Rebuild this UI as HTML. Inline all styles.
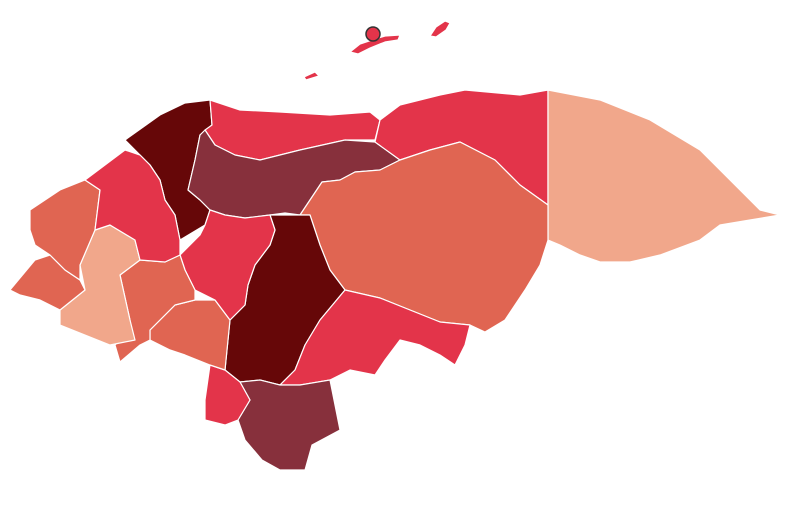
<!DOCTYPE html>
<html><head><meta charset="utf-8"><style>
html,body{margin:0;padding:0;background:#fff;width:800px;height:505px;overflow:hidden;font-family:"Liberation Sans",sans-serif}
svg path{stroke:#fff;stroke-width:1.2;stroke-linejoin:round}
</style></head><body>
<svg id="map" width="800" height="505" viewBox="0 0 800 505"></svg>
<script>
const departments=["Islas de la Bahia","Cortes","Atlantida","Yoro","Colon","Gracias a Dios","Olancho","Francisco Morazan","El Paraiso","Choluteca","Valle","La Paz","Comayagua","Intibuca","Lempira","Ocotepeque","Copan","Santa Barbara"];
const classes=[2,4,2,3,2,0,1,4,2,3,2,1,2,1,0,1,1,2];
const palette=["#f1a78b","#e06552","#e3344a","#87303c","#660708"];
const shapes=[
"M350,52 L360,44 L372,40 L385,36 L400,35 L398,40 L385,42 L370,48 L358,54 Z M430,36 L436,27 L445,21 L450,23 L446,30 L436,37 Z M304,77 L315,72 L319,76 L306,80 Z",
"M125,140 L160,115 L185,103 L210,100 L212,125 L200,135 L195,160 L188,190 L200,200 L210,210 L205,225 L180,240 L175,215 L165,200 L160,180 L150,165 L140,155 Z",
"M210,100 L240,110 L280,112 L330,115 L370,112 L380,120 L375,140 L345,140 L300,150 L260,160 L235,155 L215,145 L205,130 L212,125 Z",
"M205,130 L215,145 L235,155 L260,160 L300,150 L345,140 L375,142 L400,160 L380,170 L355,172 L340,180 L322,182 L310,200 L300,215 L285,213 L270,215 L245,218 L225,215 L210,210 L200,200 L188,190 L195,160 L200,135 Z",
"M380,120 L400,105 L440,95 L465,90 L520,95 L548,90 L548,205 L520,185 L495,160 L460,142 L430,150 L400,160 L375,142 Z",
"M548,90 L600,100 L650,120 L700,150 L740,190 L760,210 L780,215 L750,220 L720,225 L700,240 L660,255 L630,262 L600,262 L580,255 L560,245 L548,240 Z",
"M400,160 L430,150 L460,142 L495,160 L520,185 L548,205 L548,240 L540,265 L525,290 L505,320 L485,332 L470,325 L440,322 L410,310 L380,298 L345,290 L330,270 L320,245 L310,215 L300,215 L310,200 L322,182 L340,180 L355,172 L380,170 Z",
"M270,215 L300,215 L310,215 L320,245 L330,270 L345,290 L320,320 L305,345 L295,370 L280,385 L260,380 L240,382 L225,370 L228,340 L230,320 L245,305 L248,285 L255,265 L270,245 L275,230 Z",
"M345,290 L380,298 L410,310 L440,322 L470,325 L465,345 L455,365 L440,355 L420,345 L400,340 L385,360 L375,375 L350,370 L330,380 L300,385 L280,385 L295,370 L305,345 L320,320 Z",
"M240,382 L260,380 L280,385 L300,385 L330,380 L340,430 L312,445 L305,470 L280,470 L262,460 L245,440 L238,420 L250,400 Z",
"M210,365 L225,370 L240,382 L250,400 L238,420 L225,425 L205,420 L205,400 Z",
"M150,330 L175,305 L195,300 L215,300 L230,320 L228,340 L225,370 L210,365 L185,355 L170,350 L150,340 Z",
"M200,235 L205,225 L210,210 L225,215 L245,218 L270,215 L275,230 L270,245 L255,265 L248,285 L245,305 L230,320 L215,300 L195,290 L185,270 L180,255 Z",
"M120,275 L140,260 L165,262 L180,255 L185,270 L195,290 L195,300 L175,305 L150,330 L150,340 L140,345 L120,362 L115,345 L130,330 L130,320 Z",
"M60,310 L85,290 L80,265 L95,230 L110,225 L135,240 L140,260 L120,275 L130,320 L135,340 L110,345 L85,335 L60,325 Z",
"M10,290 L35,260 L50,255 L65,270 L80,280 L85,290 L60,310 L40,300 L20,295 Z",
"M30,210 L60,190 L85,180 L100,190 L95,230 L80,265 L80,280 L65,270 L50,255 L35,245 L30,230 Z",
"M85,180 L125,150 L140,155 L150,165 L160,180 L165,200 L175,215 L180,240 L180,255 L165,262 L140,260 L135,240 L110,225 L95,230 L100,190 Z"
];
const svg=document.getElementById('map');
const NS='http://www.w3.org/2000/svg';
departments.forEach((d,i)=>{
  const p=document.createElementNS(NS,'path');
  p.setAttribute('d',shapes[i]);
  p.setAttribute('fill',palette[classes[i]]);
  
  
  svg.appendChild(p);
});
const c=document.createElementNS(NS,'circle');
c.setAttribute('cx',373);c.setAttribute('cy',34);c.setAttribute('r',7);
c.setAttribute('fill','#e3344a');c.setAttribute('stroke','#333');c.setAttribute('stroke-width',1.5);


svg.appendChild(c);
</script>
</body></html>
